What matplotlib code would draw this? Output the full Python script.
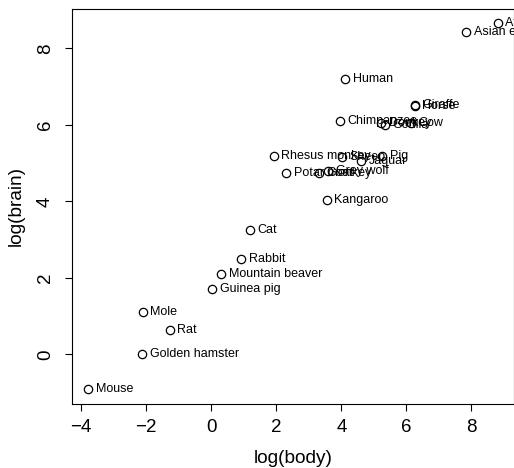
import numpy as np
import matplotlib
matplotlib.use("Agg")
import matplotlib.pyplot as plt

# =========================
# Data: Animals (log body kg, log brain g)
# =========================
names = ["Mountain beaver", "Cow", "Grey wolf", "Goat", "Guinea pig",
         "Asian elephant", "Donkey", "Horse", "Potar monkey", "Cat",
         "Giraffe", "Gorilla", "Human", "African elephant", "Rhesus monkey",
         "Kangaroo", "Golden hamster", "Mouse", "Rabbit", "Sheep",
         "Jaguar", "Chimpanzee", "Rat", "Mole", "Pig"]
body = [1.35, 465, 36.33, 27.66, 1.04,
        2547, 187.1, 521, 10, 3.3,
        529, 207, 62, 6654, 6.8,
        35, 0.12, 0.023, 2.5, 55.5,
        100, 52.16, 0.28, 0.122, 192]
brain = [8.1, 423, 119.5, 115, 5.5,
         4603, 419, 655, 115, 25.6,
         680, 406, 1320, 5712, 179,
         56, 1, 0.4, 12.1, 175,
         157, 440, 1.9, 3, 180]

x = np.log(body)
y = np.log(brain)

plt.rcParams["font.family"] = ["Liberation Sans", "DejaVu Sans"]

fig = plt.figure(figsize=(5.14, 4.68), dpi=100)
ax = fig.add_axes([72 / 514, (468 - 404) / 468, (514 - 72) / 514, (404 - 8.8) / 468])

ax.plot(x, y, "o", mfc="none", mec="black", ms=6, mew=0.9)

for xi, yi, nm in zip(x, y, names):
    ax.annotate(nm, (xi, yi), xytext=(5.5, 0), textcoords="offset points",
                ha="left", va="center", fontsize=9, clip_on=True,
                annotation_clip=True)

xr = x.max() - x.min()
yr = y.max() - y.min()
ax.set_xlim(x.min() - 0.04 * xr, x.max() + 0.04 * xr)
ax.set_ylim(y.min() - 0.04 * yr, y.max() + 0.04 * yr)

ax.set_xticks([-4, -2, 0, 2, 4, 6, 8])
ax.set_yticks([0, 2, 4, 6, 8])
ax.set_xticklabels(["\u22124", "\u22122", "0", "2", "4", "6", "8"])
ax.tick_params(direction="out", length=5, width=0.8, labelsize=13.5)
ax.tick_params(axis="x", pad=6)
ax.tick_params(axis="y", pad=8)
for lab in ax.get_yticklabels():
    lab.set_rotation(90)
    lab.set_va("center")

for sp in ax.spines.values():
    sp.set_linewidth(0.8)

ax.set_xlabel("log(body)", fontsize=13.7, labelpad=10)
ax.set_ylabel("log(brain)", fontsize=13.7, labelpad=9)

fig.savefig("out.png", dpi=100)
plt.close()
